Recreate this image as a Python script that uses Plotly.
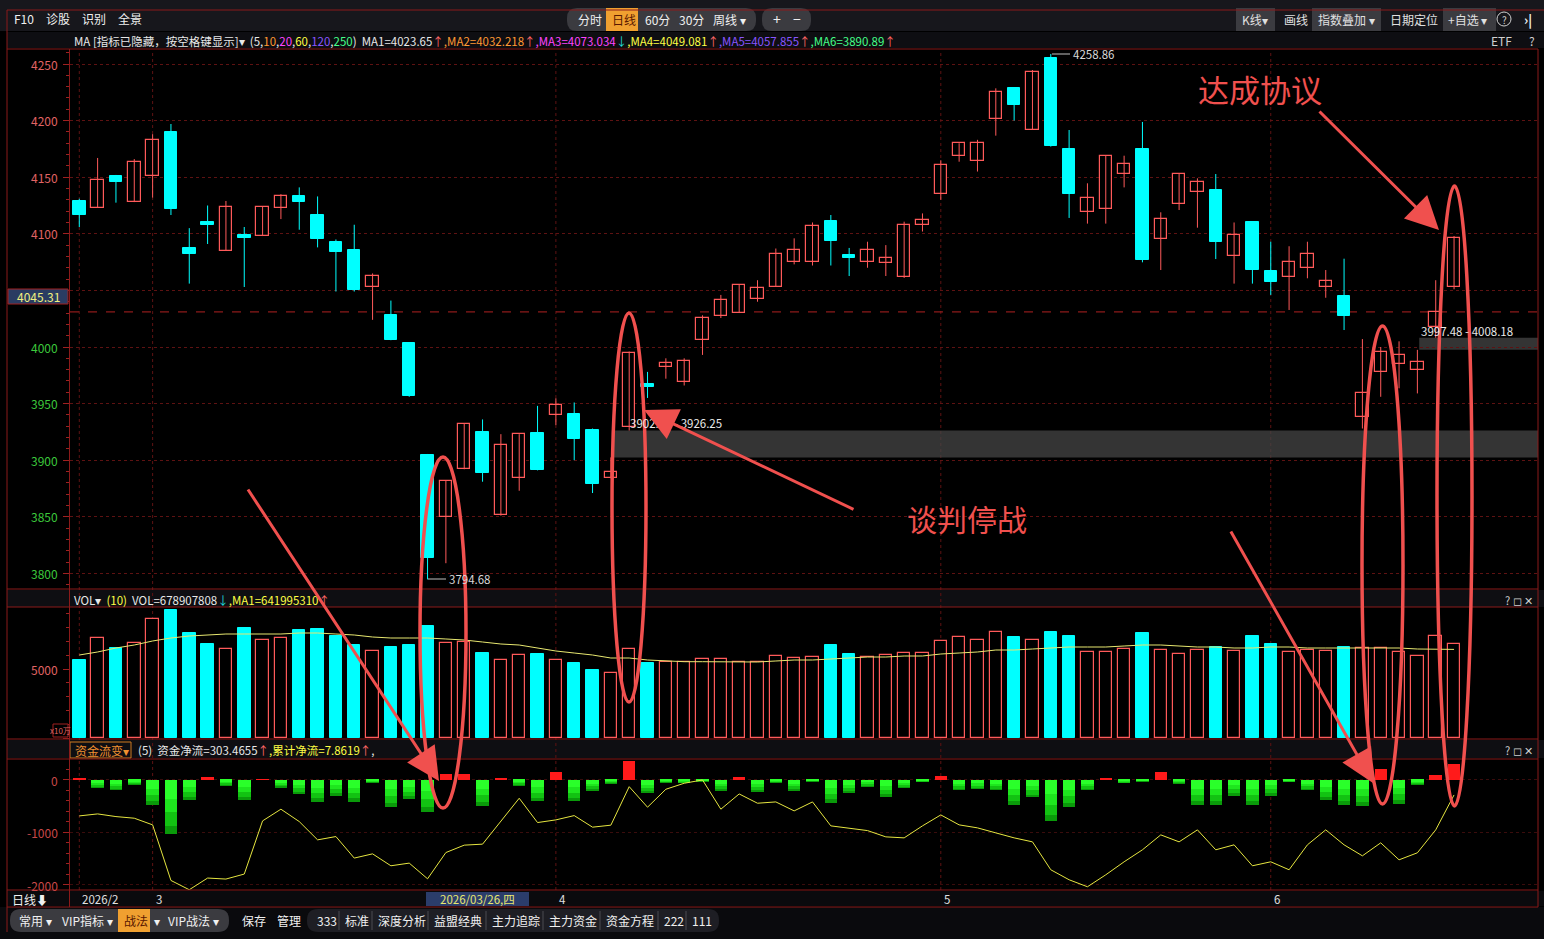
import plotly.graph_objects as go

W, H = 1544, 939

# ---------------- data ----------------
opens = [4129, 4123, 4151, 4128.4, 4151.4, 4190, 4087.5, 4110, 4085, 4099,
         4098.5, 4123, 4133, 4117, 4092.5, 4086, 4053, 4028, 4003.5, 3904.6,
         3849.6, 3892, 3924.6, 3852, 3884, 3924, 3939.7, 3940.8, 3927, 3884,
         3929.6, 3967, 3982, 3969, 4006, 4027, 4030, 4042.4, 4053, 4075,
         4075, 4111, 4081, 4075, 4074, 4061.6, 4107.5, 4135.4, 4168.3, 4164,
         4201, 4229, 4192, 4255.7, 4175, 4119.5, 4122, 4152.6, 4175, 4095.7,
         4126, 4137, 4138.7, 4080, 4110.4, 4067, 4061.6, 4070, 4053, 4045,
         3938.4, 3977.6, 3984.7, 3979.7, 4017.4, 4053]
highs = [4131, 4167, 4152, 4166, 4188, 4197, 4105, 4125, 4129, 4106,
         4124, 4135, 4141, 4133, 4095, 4108, 4065, 4041, 4004, 3905.5,
         3882, 3932, 3936, 3923, 3923, 3948, 3954.7, 3951, 3928, 3902.47,
         3996, 3978, 3990, 3990, 4028, 4046, 4055, 4059, 4087, 4096,
         4110, 4116.6, 4087.5, 4093, 4090, 4110.7, 4118, 4165, 4180, 4183,
         4228.5, 4229, 4244.7, 4258.86, 4191.7, 4144.6, 4169, 4169, 4198.8, 4119,
         4152.8, 4149, 4152.8, 4110, 4111, 4093, 4089, 4093, 4068, 4078,
         4007, 4000, 4005, 3997.48, 4059, 4098]
lows = [4106, 4123, 4127.5, 4128, 4132, 4116.6, 4056, 4091, 4085, 4053,
        4098, 4113, 4103.6, 4088, 4049, 4049, 4024, 4006, 3956, 3794.68,
        3809, 3892, 3881, 3851, 3873, 3891, 3931, 3900, 3871, 3884,
        3926.25, 3955, 3972, 3966, 3993, 4025.6, 4030, 4040, 4053, 4073,
        4072, 4072, 4062.7, 4070, 4062.7, 4061, 4102, 4130, 4163.7, 4155,
        4186.7, 4200, 4192, 4177, 4114, 4109, 4109, 4141, 4074.8, 4068,
        4121, 4105.4, 4077.7, 4056, 4056, 4046, 4032.7, 4060.7, 4043.5, 4015,
        3928, 3956, 3963.5, 3959, 4008.18, 4051]
closes = [4117, 4147.5, 4146, 4163, 4182.6, 4122, 4082, 4108, 4124, 4096.5,
          4123.4, 4133, 4128.4, 4095, 4084, 4050, 4063, 4006, 3957, 3813.3,
          3881.6, 3932, 3888.4, 3913, 3923, 3891.6, 3948.5, 3919, 3879, 3890,
          3994.7, 3965, 3986, 3988, 4025.6, 4041.5, 4055, 4052, 4082, 4085.7,
          4107, 4093.6, 4078.6, 4085.7, 4078.6, 4107.8, 4112, 4160.8, 4180, 4180,
          4225, 4214, 4242.6, 4177.8, 4135.4, 4131.4, 4169, 4162, 4077, 4112.8,
          4152.8, 4145.5, 4093, 4098.7, 4068, 4057.7, 4074.8, 4082, 4058, 4027.6,
          3959, 3995.8, 3992.9, 3986.5, 4031, 4096]
volume = [5652, 7246, 6521, 6884, 8623, 9275, 7608, 6811, 6449, 7971,
          7101, 7246, 7826, 7898, 7391, 6739, 6304, 6594, 6739, 8116,
          6862, 6934, 6159, 5630, 5992, 6087, 5630, 5435, 4927, 4688,
          6427, 5435, 5529, 5529, 5703, 5724, 5507, 5507, 5920, 5775,
          5848, 6739, 6087, 5869, 6014, 6159, 6159, 7029, 7318, 7101,
          7681, 7318, 7101, 7681, 7391, 6232, 6232, 6449, 7608, 6376,
          6087, 6376, 6594, 6304, 7391, 6811, 6232, 6376, 6304, 6594,
          6521, 6521, 6232, 5942, 7391, 6789]
vol_ma = [6014, 6232, 6521, 6739, 7029, 7246, 7391, 7463, 7536, 7536,
          7536, 7536, 7608, 7608, 7536, 7463, 7318, 7246, 7246, 7246,
          7174, 7101, 6956, 6811, 6739, 6521, 6304, 6159, 6014, 5797,
          5797, 5652, 5580, 5529, 5529, 5507, 5507, 5507, 5580, 5652,
          5652, 5724, 5797, 5869, 5869, 5942, 5942, 6087, 6159, 6232,
          6376, 6376, 6449, 6521, 6594, 6594, 6594, 6666, 6739, 6739,
          6666, 6594, 6594, 6521, 6521, 6594, 6594, 6521, 6521, 6521,
          6521, 6521, 6521, 6449, 6449, 6420]
net_flow = [40, -160, -200, -90, -475, -1030, -375, 55, -108, -375,
            5, -146, -260, -413, -300, -413, -50, -508, -368, -603,
            108, 114, -490, 38, -108, -400, 147, -400, -203, -70,
            368, -254, -51, -63, -32, -203, 63, -222, -51, -203,
            -32, -432, -254, -127, -318, -150, -40, 70, -200, -180,
            -200, -480, -330, -790, -520, -200, 20, -60, -30, 150,
            -70, -480, -480, -300, -480, -300, -40, -200, -380, -480,
            -500, 200, -450, -100, 100, 303.47]
cum_flow = [-686, -648, -699, -730, -857, -1918, -2095, -1872, -1891, -1796,
            -781, -558, -794, -1143, -1080, -1491, -1410, -1638, -1587, -1886,
            -1385, -1244, -1225, -794, -349, -813, -762, -680, -901, -863,
            -128, -520, -177, -63, 0, -558, -267, -444, -419, -590,
            -419, -876, -920, -966, -1086, -1105, -876, -667, -857, -914,
            -1010, -1105, -1181, -1714, -1905, -2038, -1810, -1562, -1333, -1048,
            -1181, -952, -1333, -1238, -1638, -1562, -1714, -1238, -952, -1238,
            -1448, -1200, -1524, -1390, -952, -286]
month_idx = [0, 4, 26, 47, 65]
month_lbl = ["2026/2", "3", "4", "5", "6"]
price_ticks = [4250, 4200, 4150, 4100, 4000, 3950, 3900, 3850, 3800]

# ---------------- helpers ----------------
def PX(x):
    return x / W

def PY(y):
    return 1 - y / H

n = len(closes)
idx = list(range(n))
up = [closes[i] >= opens[i] for i in idx]

RED = "#ff5a5a"
CYAN = "#00ffff"
BORDER = "#8b1a1a"
GRID = "#5e1212"
FONT = "Noto Sans CJK SC, Liberation Sans, sans-serif"

X_RANGE = [-0.507, 79.58]
XDOM = [PX(70), PX(1538)]

fig = go.Figure()

# wicks
for flag, col in ((True, RED), (False, CYAN)):
    xs, ys = [], []
    for i in idx:
        if up[i] == flag:
            xs += [i, i, None]
            ys += [lows[i], highs[i], None]
    fig.add_trace(go.Scatter(x=xs, y=ys, mode="lines", line=dict(color=col, width=1),
                             xaxis="x", yaxis="y", hoverinfo="skip", showlegend=False))
# bodies
ux = [i for i in idx if up[i]]
dx = [i for i in idx if not up[i]]
fig.add_trace(go.Bar(x=ux, base=[opens[i] for i in ux],
                     y=[max(closes[i] - opens[i], 0.8) for i in ux], width=0.68,
                     marker=dict(color="#000000", line=dict(color=RED, width=1.2)),
                     xaxis="x", yaxis="y", showlegend=False))
fig.add_trace(go.Bar(x=dx, base=[closes[i] for i in dx],
                     y=[max(opens[i] - closes[i], 0.8) for i in dx], width=0.68,
                     marker=dict(color=CYAN, line=dict(color=CYAN, width=1)),
                     xaxis="x", yaxis="y", showlegend=False))

# volume
fig.add_trace(go.Bar(x=ux, y=[volume[i] for i in ux], width=0.68,
                     marker=dict(color="#000000", line=dict(color=RED, width=1.2)),
                     xaxis="x2", yaxis="y2", showlegend=False))
fig.add_trace(go.Bar(x=dx, y=[volume[i] for i in dx], width=0.68,
                     marker=dict(color=CYAN, line=dict(color=CYAN, width=1)),
                     xaxis="x2", yaxis="y2", showlegend=False))
fig.add_trace(go.Scatter(x=idx, y=vol_ma, mode="lines", line=dict(color="#e8e870", width=1),
                         xaxis="x2", yaxis="y2", showlegend=False))

# fund flow
px_ = [i for i in idx if net_flow[i] >= 0]
nx_ = [i for i in idx if net_flow[i] < 0]
fig.add_trace(go.Bar(x=px_, y=[max(net_flow[i], 8) for i in px_], width=0.68,
                     marker=dict(color="#ff1a1a", line=dict(width=0)),
                     xaxis="x3", yaxis="y3", showlegend=False))
for frac, col in ((1.0, "#0a9a0a"), (0.85, "#12c212"), (0.6, "#1ee61e"), (0.35, "#2aff2a")):
    fig.add_trace(go.Bar(x=nx_, y=[net_flow[i] * frac for i in nx_], width=0.68,
                         marker=dict(color=col, line=dict(width=0)),
                         xaxis="x3", yaxis="y3", showlegend=False))
fig.add_trace(go.Scatter(x=idx, y=cum_flow, mode="lines", line=dict(color="#e6e640", width=1),
                         xaxis="x3", yaxis="y3", showlegend=False))

# ---------------- axes ----------------
def xax(anchor):
    return dict(domain=XDOM, range=X_RANGE, anchor=anchor, showgrid=False, zeroline=False,
                showticklabels=False, ticks="", showline=False, fixedrange=True)

def yax(dom, rng, dtick, minor):
    d = dict(domain=dom, range=rng, anchor="x", showgrid=False, zeroline=False,
             showticklabels=False, showline=True, linecolor=BORDER, linewidth=1,
             ticks="outside", ticklen=6, tickcolor="#a02020", dtick=dtick, tick0=0)
    if minor:
        d["minor"] = dict(dtick=minor, ticklen=3, tickcolor="#a02020", ticks="outside")
    return d

main_y = [4000 + (347 - 588) / 1.132, 4000 + (347 - 50) / 1.132]
fig.update_layout(
    xaxis=xax("y"), xaxis2=xax("y2"), xaxis3=xax("y3"),
    yaxis=dict(yax([PY(588), PY(50)], main_y, 50, 10), showgrid=True, gridcolor=GRID,
               griddash="dot", gridwidth=1),
    yaxis2=dict(yax([PY(738), PY(608)], [0, 130 * 72.46], 5000, 1000), anchor="x2"),
    yaxis3=dict(yax([PY(890), PY(760)], [-2100, 381], 1000, 200), anchor="x3",
                showgrid=True, gridcolor="#3a0c0c", griddash="dot"),
    barmode="overlay", bargap=0,
    width=W, height=H, margin=dict(l=0, r=0, t=0, b=0), autosize=False,
    paper_bgcolor="#000000", plot_bgcolor="#000000",
    font=dict(family=FONT, size=12, color="#e0e0e0"), showlegend=False,
)

shapes = []
ann = []

def rect(x0, y0, x1, y1, fill, line=None, lw=0, layer="below"):
    shapes.append(dict(type="rect", xref="paper", yref="paper", x0=PX(x0), x1=PX(x1),
                       y0=PY(y0), y1=PY(y1), fillcolor=fill,
                       line=dict(color=line or fill, width=lw), layer=layer))

def hline(y, x0, x1, col=BORDER, w=1, dash=None, layer="above"):
    shapes.append(dict(type="line", xref="paper", yref="paper", x0=PX(x0), x1=PX(x1),
                       y0=PY(y), y1=PY(y), line=dict(color=col, width=w, dash=dash), layer=layer))

def vline(x, y0, y1, col=BORDER, w=1, dash=None, layer="above"):
    shapes.append(dict(type="line", xref="paper", yref="paper", x0=PX(x), x1=PX(x),
                       y0=PY(y0), y1=PY(y1), line=dict(color=col, width=w, dash=dash), layer=layer))

def rrect(x0, y0, x1, y1, r, fill):
    pts = (f"M{PX(x0 + r)},{PY(y0)} L{PX(x1 - r)},{PY(y0)} Q{PX(x1)},{PY(y0)} {PX(x1)},{PY(y0 + r)} "
           f"L{PX(x1)},{PY(y1 - r)} Q{PX(x1)},{PY(y1)} {PX(x1 - r)},{PY(y1)} "
           f"L{PX(x0 + r)},{PY(y1)} Q{PX(x0)},{PY(y1)} {PX(x0)},{PY(y1 - r)} "
           f"L{PX(x0)},{PY(y0 + r)} Q{PX(x0)},{PY(y0)} {PX(x0 + r)},{PY(y0)} Z")
    shapes.append(dict(type="path", xref="paper", yref="paper", path=pts, fillcolor=fill,
                       line=dict(width=0), layer="below"))

def text(x, y, s, size=12, color="#e0e0e0", anchor="left", family=FONT, bg=None):
    a = dict(x=PX(x), y=PY(y), xref="paper", yref="paper", text=s, showarrow=False,
             xanchor=anchor, yanchor="middle", font=dict(size=size, color=color, family=family))
    if bg:
        a["bgcolor"] = bg
    ann.append(a)

# backgrounds of header rows
rect(0, 0, W, 31, "#17171c")
rect(7, 32, W, 48, "#0e0e12")
rect(7, 590, W, 607, "#0e0e12")
rect(7, 740, W, 758, "#0e0e12")
rect(7, 891, W, 906, "#0a0a0d")
rect(0, 907, W, H, "#0a0a0d")

# gap bands
shapes.append(dict(type="rect", xref="x", yref="y", x0=29.05, x1=X_RANGE[1], y0=3902.47, y1=3926.25,
                   fillcolor="rgba(70,70,70,0.75)", line=dict(width=0), layer="below"))
shapes.append(dict(type="rect", xref="x", yref="y", x0=73.1, x1=X_RANGE[1], y0=3997.48, y1=4008.18,
                   fillcolor="rgba(70,70,70,0.75)", line=dict(width=0), layer="below"))

# month vertical dotted lines
for m in month_idx:
    for yr in ("y", "y2", "y3"):
        pass
    shapes.append(dict(type="line", xref="x", yref="paper", x0=m, x1=m, y0=PY(890), y1=PY(50),
                       line=dict(color=GRID, width=1, dash="dot"), layer="below"))
# current price dashed line
shapes.append(dict(type="line", xref="paper", yref="y", x0=XDOM[0], x1=XDOM[1], y0=4031, y1=4031,
                   line=dict(color="#b02020", width=1, dash="dash"), layer="below"))

# borders
hline(10, 7, W)
hline(49, 7, 1538)
hline(589, 7, 1538)
hline(607, 7, 1538)
hline(739, 7, 1538)
hline(759, 7, 1538)
hline(890, 7, 1538)
hline(907, 7, 1538)
vline(7, 10, 932)
vline(69.5, 49, 907)
vline(1538, 49, 907)

# top bar
for xx, s in ((12, "F10"), (44, "诊股"), (80, "识别"), (116, "全景")):
    text(xx, 19, s, 12, "#f0f0f0")
rrect(567, 8, 756, 31, 10, "#3b3b40")
rect(606, 8, 638, 31, "#f0a030")
for xx, s in ((576, "分时"), (610, "日线"), (643, "60分"), (677, "30分"), (711, "周线 ▾")):
    text(xx, 19.5, s, 12, "#5a1800" if s == "日线" else "#f0f0f0")
rrect(762, 8, 811, 31, 10, "#3b3b40")
text(777, 19.5, "+", 14, "#f0f0f0", "center")
text(797, 19.5, "−", 14, "#f0f0f0", "center")
rect(1236, 8, 1275, 31, "#3b3b40")
text(1240, 19.5, "K线▾", 12)
text(1282, 19.5, "画线", 12)
rect(1312, 8, 1381, 31, "#3b3b40")
text(1316, 19.5, "指数叠加 ▾", 12)
text(1388, 19.5, "日期定位", 12)
rect(1443, 8, 1496, 31, "#3b3b40")
text(1446, 19.5, "+自选 ▾", 12)
shapes.append(dict(type="circle", xref="paper", yref="paper", x0=PX(1497), x1=PX(1511),
                   y0=PY(12), y1=PY(26), line=dict(color="#d0d0d0", width=1)))
text(1504, 19.5, "?", 10, "#d0d0d0", "center")
text(1528, 19.5, "<b>›|</b>", 13, "#f0f0f0", "center")

# MA header
ma_txt = ("MA [指标已隐藏，按空格键显示]▾  (5,<span style='color:#ff9933'>10</span>,"
          "<span style='color:#ff44ff'>20</span>,<span style='color:#ffff44'>60</span>,"
          "<span style='color:#8855ff'>120</span>,<span style='color:#44ff88'>250</span>)  "
          "MA1=4023.65<span style='color:#ff6666'>↑</span>"
          "<span style='color:#ff9933'>,MA2=4032.218</span><span style='color:#ff6666'>↑</span>"
          "<span style='color:#ff44ff'>,MA3=4073.034</span><span style='color:#22dddd'>↓</span>"
          "<span style='color:#ffff44'>,MA4=4049.081</span><span style='color:#ff6666'>↑</span>"
          "<span style='color:#8855ff'>,MA5=4057.855</span><span style='color:#ff6666'>↑</span>"
          "<span style='color:#44ff88'>,MA6=3890.89</span><span style='color:#ff6666'>↑</span>")
text(72, 41, ma_txt, 11.5, "#e8e8e8")
text(1489, 41, "ETF", 12, "#d0d0d0")
text(1527, 41, "?", 12, "#d0d0d0")

# volume header
vol_txt = ("VOL▾  <span style='color:#ffff44'>(10)</span>  VOL=678907808<span style='color:#22dddd'>↓</span>"
           "<span style='color:#ffff44'>,MA1=641995310</span><span style='color:#ff6666'>↑</span>")
text(72, 599.5, vol_txt, 11.5, "#e8e8e8")
text(1503, 599.5, "? ◻ ✕", 11, "#d0d0d0")

# fund header
rect(70, 742, 131, 758, "#0e0e12", "#d07a20", 1)
text(73, 750, "资金流变▾", 12, "#f09030")
fund_txt = ("(5)  资金净流=303.4655<span style='color:#ff6666'>↑</span>"
            "<span style='color:#ffff44'>,累计净流=7.8619</span><span style='color:#ff6666'>↑</span>,")
text(136, 750, fund_txt, 11.5, "#e8e8e8")
text(1503, 750, "? ◻ ✕", 11, "#d0d0d0")

# price labels
for p in price_ticks:
    y = 347 - (p - 4000) * 1.132
    text(60, y, str(p), 12, "#e06464" if p > 4000 else "#3cc83c", "right")
rect(8, 289, 68, 304, "#2a3c62", "#a02020", 1, "above")
text(38, 296.5, "4045.31", 12, "#f0f080", "center")

# volume labels
text(60, 669, "5000", 12, "#e06464", "right")
rect(53, 724, 68, 737, "#000000", "#a02020", 1, "above")
text(60.5, 730.5, "x10万", 8, "#e06464", "center")

# fund labels
for v, lab in ((0, "0"), (-1000, "-1000"), (-2000, "-2000")):
    text(60, 780 - v * 0.0525, lab, 12, "#c84848", "right")

# max / min markers
hline(54, 1052, 1070, "#c0c0c0")
text(1071, 54, "4258.86", 11.5, "#d8d8d8")
hline(579, 428, 446, "#c0c0c0")
text(447, 579, "3794.68", 11.5, "#d8d8d8")
text(628, 423, "3902.47 - 3926.25", 11.5, "#e8e8e8")
text(1419, 331, "3997.48 - 4008.18", 11.5, "#e8e8e8")

# date row
text(10, 899, "日线⬇", 12, "#f0f0f0")
for m, lab in zip(month_idx, month_lbl):
    xpix = 79.3 + m * 18.33
    text(xpix + 1, 899, lab, 11.5, "#e0e0e0")
rect(426, 892, 529, 906, "#2b3d6b")
text(477.5, 899, "2026/03/26,四", 11.5, "#e8e870", "center")

# bottom toolbar
rrect(10, 909, 229, 932, 11, "#3b3b40")
rect(118, 909, 150, 932, "#f0a030")
for xx, s in ((17, "常用 ▾"), (60, "VIP指标 ▾"), (122, "战法"), (152, "▾"), (166, "VIP战法 ▾"),
              (240, "保存"), (275, "管理")):
    text(xx, 920.5, s, 12, "#5a1800" if s == "战法" else "#f0f0f0")
rrect(307, 909, 719, 932, 11, "#1e1e24")
items = [(315, "333"), (343, "标准"), (376, "深度分析"), (432, "益盟经典"), (490, "主力追踪"),
         (547, "主力资金"), (604, "资金方程"), (662, "222"), (690, "111")]
for k, (xx, s) in enumerate(items):
    text(xx, 920.5, s, 12, "#f0f0f0")
    if k > 0:
        vline(xx - 4, 911, 930, "#4a4a50")

# ---------------- user markup ----------------
MK = "#f0504e"
for (x0, y0, x1, y1) in ((420, 457, 466, 808), (612, 313, 646, 702),
                         (1362, 326, 1403, 804), (1437, 186, 1472, 806)):
    shapes.append(dict(type="circle", xref="paper", yref="paper", x0=PX(x0), x1=PX(x1),
                       y0=PY(y1), y1=PY(y0), line=dict(color=MK, width=3.5), layer="above"))

for (tx, ty, hx, hy) in ((1318, 110, 1439, 230), (855, 510, 644, 410),
                         (247, 488, 439, 781), (1230, 530, 1373, 783)):
    ann.append(dict(x=PX(hx), y=PY(hy), xref="paper", yref="paper", text="", showarrow=True,
                    ax=tx - hx, ay=ty - hy, axref="pixel", ayref="pixel",
                    arrowhead=2, arrowsize=2.2, arrowwidth=3, arrowcolor=MK))

text(1260, 88, "达成协议", 31, MK, "center")
text(967, 518, "谈判停战", 30, MK, "center")

fig.update_layout(shapes=shapes, annotations=ann)
fig.write_html("out.html", post_script="document.body.style.margin='0';document.body.style.background='#000';")
